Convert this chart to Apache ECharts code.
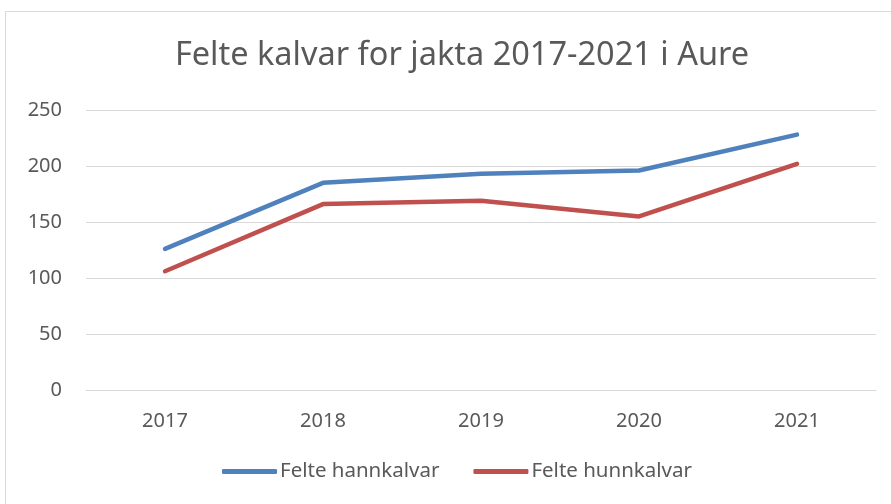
<!DOCTYPE html>
<html>
<head>
<meta charset="utf-8">
<script src="https://cdn.jsdelivr.net/npm/echarts@6/dist/echarts.min.js"></script>
<style>
html, body { margin: 0; padding: 0; background: #fff; }
#main { width: 891px; height: 504px; }
</style>
</head>
<body>
<div id="main"></div>
<script>
var years = ['2017', '2018', '2019', '2020', '2021'];
var hannkalvar = [126, 185, 193, 196, 228];
var hunnkalvar = [106, 166, 169, 155, 202];
var yTicks = [0, 50, 100, 150, 200, 250];

var font = 'Noto Sans';
var myChart = echarts.init(document.getElementById('main'));

var option = {
	backgroundColor: '#fff',
	animation: false,
	graphic: [{
		type: 'rect',
		shape: { x: 5.5, y: 11.5, width: 920, height: 520 },
		style: { fill: 'none', stroke: '#d9d9d9', lineWidth: 1 },
		silent: true
	}],
	title: {
		text: 'Felte kalvar for jakta 2017-2021 i Aure',
		left: 457,
		textAlign: 'center',
		top: 34,
		textStyle: { fontFamily: font, fontSize: 32.5, fontWeight: 'normal', color: '#595959' }
	},
	legend: {
		bottom: 17,
		left: 217,
		icon: 'roundRect',
		itemWidth: 55,
		itemHeight: 5,
		itemGap: 34,
		textStyle: { fontFamily: font, fontSize: 20.5, color: '#595959', padding: [0, 0, 0, -2] },
		data: ['Felte hannkalvar', 'Felte hunnkalvar']
	},
	grid: { left: 86, right: 15, top: 110, bottom: 114 },
	xAxis: {
		type: 'category',
		data: years,
		boundaryGap: true,
		axisLine: { lineStyle: { color: '#d9d9d9' } },
		axisTick: { show: false },
		axisLabel: { fontFamily: font, fontSize: 20, color: '#595959', margin: 21 }
	},
	yAxis: {
		type: 'value',
		min: yTicks[0],
		max: yTicks[yTicks.length - 1],
		interval: 50,
		axisLine: { show: false },
		axisTick: { show: false },
		axisLabel: { fontFamily: font, fontSize: 20, color: '#595959', margin: 24 },
		splitLine: { lineStyle: { color: '#d9d9d9', width: 1 } }
	},
	series: [{
		name: 'Felte hannkalvar',
		type: 'line',
		data: hannkalvar,
		color: '#4F81BD',
		showSymbol: false,
		lineStyle: { width: 4.5, cap: 'round', join: 'round' }
	}, {
		name: 'Felte hunnkalvar',
		type: 'line',
		data: hunnkalvar,
		color: '#C0504D',
		showSymbol: false,
		lineStyle: { width: 4.5, cap: 'round', join: 'round' }
	}]
};
myChart.setOption(option);
</script>
</body>
</html>
